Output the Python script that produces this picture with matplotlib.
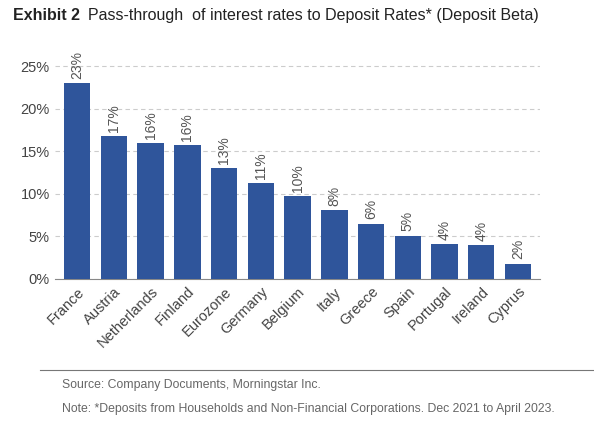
import matplotlib
matplotlib.use("Agg")
import matplotlib.pyplot as plt

countries = ["France","Austria","Netherlands","Finland","Eurozone","Germany","Belgium","Italy","Greece","Spain","Portugal","Ireland","Cyprus"]
values = [23.0,16.8,16.0,15.7,13.0,11.3,9.7,8.1,6.5,5.1,4.1,4.0,1.8]
labels = ["23%","17%","16%","16%","13%","11%","10%","8%","6%","5%","4%","4%","2%"]
yticks = [0,5,10,15,20,25]

plt.rcParams['font.family'] = ['Liberation Sans', 'DejaVu Sans']
fig = plt.figure(figsize=(5.94,4.47), dpi=100)
ax = fig.add_axes([0.093,0.376,0.816,0.514])
x = range(len(countries))
ax.bar(x, values, width=0.72, color="#2F559B", zorder=3)
for i,(v,l) in enumerate(zip(values,labels)):
    ax.text(i, v+0.5, l, rotation=90, ha="center", va="bottom", fontsize=10, color="#555555")
ax.set_ylim(0,27)
ax.set_xlim(-0.6,len(countries)-0.4)
ax.set_yticks(yticks)
ax.set_yticklabels([f"{t}%" for t in yticks], fontsize=10.5, color="#444444")
ax.set_xticks(list(x))
ax.set_xticklabels(countries, rotation=45, ha="right", rotation_mode="anchor", fontsize=10.5, color="#444444")
ax.grid(axis="y", linestyle=(0,(4,3)), color="#cccccc", linewidth=0.8, zorder=0)
for s in ["top","right","left"]:
    ax.spines[s].set_visible(False)
ax.spines["bottom"].set_color("#888888")
ax.tick_params(length=0, pad=4)

fig.text(0.022,0.955,"Exhibit 2", fontsize=11.5, fontweight="bold", color="#222222")
fig.text(0.148,0.955,"Pass-through  of interest rates to Deposit Rates* (Deposit Beta)", fontsize=11.5, color="#222222")
fig.add_artist(plt.Line2D([0.067,1.0],[0.172,0.172], color="#777777", linewidth=0.8))
fig.text(0.104,0.132,"Source: Company Documents, Morningstar Inc.", fontsize=8.8, color="#666666")
fig.text(0.104,0.079,"Note: *Deposits from Households and Non-Financial Corporations. Dec 2021 to April 2023.", fontsize=8.8, color="#666666")
fig.savefig("out.png", dpi=100)
